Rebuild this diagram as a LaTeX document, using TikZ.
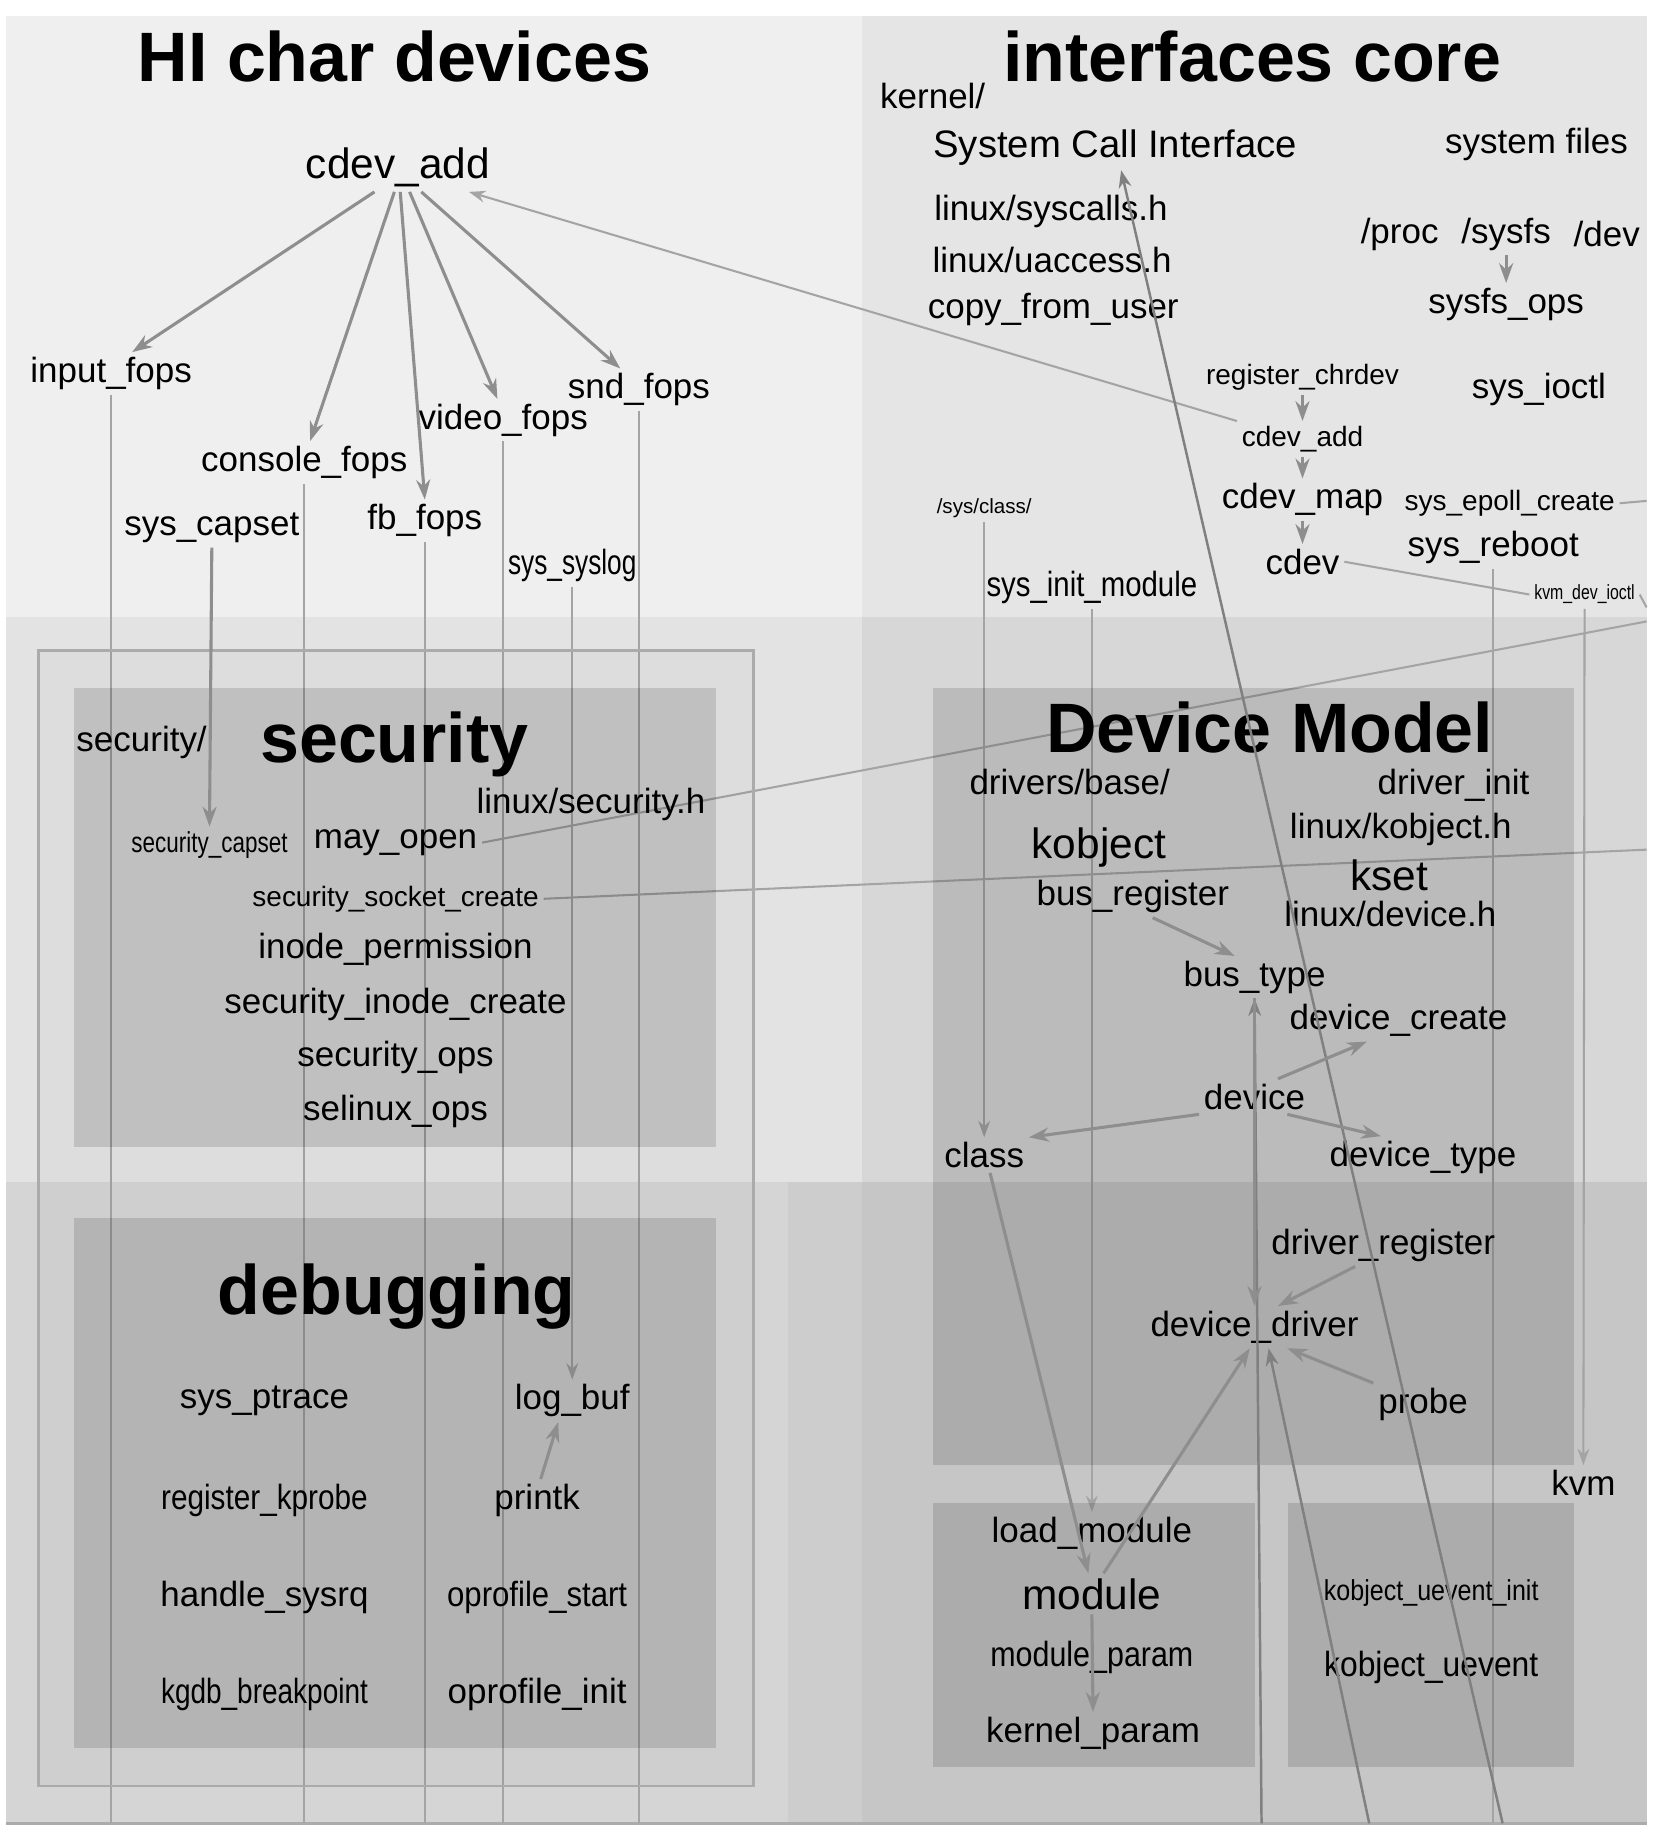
\documentclass[tikz,border=0pt]{standalone}
\usepackage{fontspec}
\setmainfont{Liberation Sans}
\usepackage{graphicx}
\usepackage{xcolor}
\usetikzlibrary{positioning}
\usetikzlibrary{arrows.meta}
\definecolor{hitop}{HTML}{EFEFEF}
\definecolor{ictop}{HTML}{E5E5E5}
\definecolor{himid}{HTML}{E3E3E3}
\definecolor{icmid}{HTML}{D7D7D7}
\definecolor{hilow}{HTML}{D5D5D5}
\definecolor{gaplow}{HTML}{CDCDCD}
\definecolor{iclow}{HTML}{C6C6C6}
\definecolor{callgray}{HTML}{8E8E8E}
\definecolor{wiregray}{HTML}{A4A4A4}
\definecolor{frameline}{HTML}{ABABAB}
\pgfdeclarelayer{back}
\pgfdeclarelayer{wires}
\pgfdeclarelayer{panels}
\pgfsetlayers{back,wires,panels,main}
\newcommand{\narrowtext}[2]{\scalebox{#1}[1]{#2}}
\tikzset{
  % Labels of functions and files
  lbl/.style={font=\fontsize{8.5}{10}\selectfont, inner sep=1pt},
  lblbig/.style={font=\fontsize{10.3}{12}\selectfont, inner sep=1pt},
  lblsmall/.style={font=\fontsize{6.8}{8}\selectfont, inner sep=1pt},
  lbltiny/.style={font=\fontsize{5}{6}\selectfont, inner sep=1pt},
  % Headings of the areas
  heading/.style={font=\fontsize{17}{20}\selectfont\bfseries, inner sep=1pt},
  % Grey panels and the outer frame
  panel/.style={fill=black, fill opacity=0.13, draw=none},
  framebox/.style={draw=frameline, line width=0.6pt, fill=black, fill opacity=0.025},
  % Relationships
  call/.style={-{Stealth[length=1.7mm,width=1.2mm]}, draw=callgray, line width=0.75pt},
  longcall/.style={-{Stealth[length=1.5mm,width=1.1mm]}, draw=callgray!90!black, line width=0.6pt},
  wire/.style={draw=wiregray, line width=0.5pt},
  wirecall/.style={wire, -{Stealth[length=1.4mm,width=1mm]}},
}

\begin{document}
\begin{tikzpicture}[x=0.01cm, y=-0.01cm]
\useasboundingbox (0,0) rectangle (1417,1568);

\begin{pgfonlayer}{back}
  \fill[white] (0,0) rectangle (1417,1568);
  \fill[hitop] (5,14) rectangle (737,527);
  \fill[ictop] (737,14) rectangle (1407,527);
  \fill[himid] (5,527) rectangle (737,1010);
  \fill[icmid] (737,527) rectangle (1407,1010);
  \fill[hilow] (5,1010) rectangle (737,1558);
  \fill[gaplow] (673,1010) rectangle (737,1558);
  \fill[iclow] (737,1010) rectangle (1407,1558);
  \draw[frameline, line width=0.8pt] (5,1558) -- (1407,1558);
\end{pgfonlayer}

\begin{pgfonlayer}{panels}
  \draw[framebox] (33,556) rectangle (644,1526);
  \fill[panel] (63,588) rectangle (612,980);
  \fill[panel] (63,1041) rectangle (612,1494);
  \fill[panel] (797,588) rectangle (1345,1252);
  \fill[panel] (797,1284) rectangle (1072,1510);
  \fill[panel] (1101,1284) rectangle (1345,1510);
\end{pgfonlayer}

\node[heading] (hititle) at (337,48) {HI char devices};
\node[heading] (ictitle) at (1070,48) {interfaces core};
\node[heading] (sectitle) at (337,636) {security};
\node[heading] (dbgtitle) at (339,1108) {debugging};
\node[heading] (dmtitle) at (1085,622) {Device Model};

% HI char devices
\node[lblbig] (cdevaddL) at (340,143) {cdev\_add};
\node[lbl] (inputfops) at (95,319) {input\_fops};
\node[lbl] (sndfops) at (546,333) {snd\_fops};
\node[lbl] (videofops) at (430,359) {video\_fops};
\node[lbl] (consolefops) at (260,395) {console\_fops};
\node[lbl] (syscapset) at (181,451) {sys\_capset};
\node[lbl] (fbfops) at (363,445) {fb\_fops};
\node[lbl] (syssyslog) at (489,483) {\narrowtext{0.75}{sys\_syslog}};

% interfaces core
\node[lbl] (kerneldir) at (797,82) {kernel/};
\node[lbl, font=\fontsize{9.3}{11}\selectfont] (sci) at (953,126) {System Call Interface};
\node[lbl] (sysfiles) at (1313,123) {system files};
\node[lbl] (syscallsh) at (898,181) {linux/syscalls.h};
\node[lbl] (uaccessh) at (899,222) {linux/uaccess.h};
\node[lbl] (copyfromuser) at (900,264) {copy\_from\_user};
\node[lbl] (proc) at (1196,200) {/proc};
\node[lbl] (sysfs) at (1287,200) {/sysfs};
\node[lbl] (dev) at (1373,200) {/dev};
\node[lbl] (sysfsops) at (1287,260) {sysfs\_ops};
\node[lblsmall] (registerchrdev) at (1113,322) {register\_chrdev};
\node[lbl] (sysioctl) at (1315,333) {sys\_ioctl};
\node[lblsmall] (cdevaddR) at (1113,375) {cdev\_add};
\node[lbl] (cdevmap) at (1113,427) {cdev\_map};
\node[lblsmall] (sysepoll) at (1290,430) {sys\_epoll\_create};
\node[lbl] (cdev) at (1113,480) {cdev};
\node[lbl] (sysreboot) at (1276,468) {sys\_reboot};
\node[lbltiny] (sysclass) at (841,434) {/sys/class/};
\node[lbl] (sysinitmodule) at (933,502) {\narrowtext{0.84}{sys\_init\_module}};
\node[lbltiny] (kvmdevioctl) at (1354,508) {\narrowtext{0.77}{kvm\_dev\_ioctl}};

% security
\node[lbl] (securitydir) at (121,634) {security/};
\node[lbl] (securityh) at (505,687) {linux/security.h};
\node[lbl, font=\fontsize{7}{8}\selectfont] (securitycapset) at (179,722) {\narrowtext{0.78}{security\_capset}};
\node[lbl] (mayopen) at (338,720) {may\_open};
\node[lblsmall] (socketcreate) at (338,768) {security\_socket\_create};
\node[lbl] (inodeperm) at (338,811) {inode\_permission};
\node[lbl] (inodecreate) at (338,858) {security\_inode\_create};
\node[lbl] (securityops) at (338,904) {security\_ops};
\node[lbl] (selinuxops) at (338,950) {selinux\_ops};

% debugging
\node[lbl] (sysptrace) at (226,1197) {sys\_ptrace};
\node[lbl] (logbuf) at (489,1197) {log\_buf};
\node[lbl] (registerkprobe) at (226,1282) {\narrowtext{0.85}{register\_kprobe}};
\node[lbl] (printk) at (459,1282) {printk};
\node[lbl] (handlesysrq) at (226,1365) {handle\_sysrq};
\node[lbl] (oprofilestart) at (459,1365) {\narrowtext{0.89}{oprofile\_start}};
\node[lbl] (kgdbbreakpoint) at (226,1448) {\narrowtext{0.8}{kgdb\_breakpoint}};
\node[lbl] (oprofileinit) at (459,1448) {oprofile\_init};

% Device Model
\node[lbl] (driversbase) at (914,668) {drivers/base/};
\node[lbl] (driverinit) at (1242,671) {driver\_init};
\node[lbl] (kobjecth) at (1197,709) {linux/kobject.h};
\node[lblbig] (kobject) at (939,724) {kobject};
\node[lblbig] (kset) at (1187,748) {kset};
\node[lbl] (busregister) at (968,766) {bus\_register};
\node[lbl] (deviceh) at (1188,781) {linux/device.h};
\node[lbl] (bustype) at (1072,835) {bus\_type};
\node[lbl] (devicecreate) at (1195,872) {device\_create};
\node[lbl] (device) at (1072,937) {device};
\node[lbl] (class) at (841,987) {class};
\node[lbl] (devicetype) at (1216,989) {device\_type};
\node[lbl] (driverregister) at (1182,1064) {driver\_register};
\node[lbl] (devicedriver) at (1072,1134) {device\_driver};
\node[lbl] (probe) at (1216,1200) {probe};
\node[lbl] (kvm) at (1353,1267) {kvm};
\node[lbl] (loadmodule) at (933,1310) {load\_module};
\node[lblbig] (module) at (933,1362) {module};
\node[lbl] (moduleparam) at (933,1416) {\narrowtext{0.87}{module\_param}};
\node[lbl] (kernelparam) at (934,1481) {kernel\_param};
\node[lbl, font=\fontsize{7}{8}\selectfont] (ueventinit) at (1223,1361) {\narrowtext{0.87}{kobject\_uevent\_init}};
\node[lbl] (uevent) at (1223,1425) {\narrowtext{0.91}{kobject\_uevent}};

% ends of lines that leave the picture
\coordinate (bottomedge) at (0,1558);
\coordinate (sciout) at (1284,1558);
\coordinate (ddout) at (1170,1558);
\coordinate (busout) at (1078,1558);
\coordinate (edgeA) at (1407,531);
\coordinate (edgeB) at (1407,726);
\coordinate (edgeC) at (1407,519);
\coordinate (edgeD) at (1407,428);

\begin{pgfonlayer}{wires}
  \draw[wire] (inputfops.south) -- (inputfops.south |- bottomedge);
  \draw[wire] (consolefops.south) -- (consolefops.south |- bottomedge);
  \draw[wire] (fbfops.south) -- (fbfops.south |- bottomedge);
  \draw[wire] (videofops.south) -- (videofops.south |- bottomedge);
  \draw[wire] (sndfops.south) -- (sndfops.south |- bottomedge);
  \draw[wirecall] (syssyslog.south) -- (logbuf.north);
  \draw[wirecall] (sysinitmodule.south) -- (loadmodule.north);
  \draw[wirecall] (sysclass.south) -- (class.north);
  \draw[wire] (sysreboot.south) -- (sysreboot.south |- bottomedge);
  \draw[wirecall] (kvmdevioctl.south) -- (kvm.north);
  \draw[wirecall] (cdevaddR.north west) -- ([xshift=-0.22cm]cdevaddL.south east);
  \draw[wire] (mayopen.east) -- (edgeA);
  \draw[wire] (socketcreate.east) -- (edgeB);
  \draw[wire] (cdev.east) -- (kvmdevioctl.west);
  \draw[wire] (kvmdevioctl.east) -- (edgeC);
  \draw[wire] (sysepoll.east) -- (edgeD);
\end{pgfonlayer}

\draw[call] ([xshift=-0.2cm]cdevaddL.south) -- ([xshift=0.18cm]inputfops.north);
\draw[call] ([xshift=-0.03cm]cdevaddL.south) -- ([xshift=0.05cm]consolefops.north);
\draw[call] ([xshift=0.02cm]cdevaddL.south) -- (fbfops.north);
\draw[call] ([xshift=0.1cm]cdevaddL.south) -- ([xshift=-0.05cm]videofops.north);
\draw[call] ([xshift=0.2cm]cdevaddL.south) -- ([xshift=-0.16cm]sndfops.north);
\draw[call] (syscapset.south) -- (securitycapset.north);
\draw[call] ([xshift=0.03cm]printk.north) -- ([xshift=-0.12cm]logbuf.south);
\draw[call] (sysfs.south) -- (sysfsops.north);
\draw[call] (registerchrdev.south) -- (cdevaddR.north);
\draw[call] (cdevaddR.south) -- (cdevmap.north);
\draw[call] (cdevmap.south) -- (cdev.north);
\draw[longcall] (sciout) -- ([xshift=0.05cm]sci.south);
\draw[call] ([xshift=0.17cm]busregister.south) -- ([xshift=-0.17cm]bustype.north);
\draw[longcall] (busout) -- (bustype.south);
\draw[call] (bustype.south) -- (devicedriver.north);
\draw[call] ([xshift=0.2cm]device.north) -- ([xshift=-0.27cm]devicecreate.south);
\draw[call] (device.south west) -- (class.north east);
\draw[call] ([xshift=0.28cm]device.south) -- ([xshift=-0.36cm]devicetype.north);
\draw[call] ([xshift=-0.24cm]driverregister.south) -- ([xshift=0.2cm]devicedriver.north);
\draw[call] (probe.north west) -- ([xshift=0.28cm]devicedriver.south);
\draw[longcall] (ddout) -- ([xshift=0.12cm]devicedriver.south);
\draw[call] ([xshift=0.05cm]class.south) -- ([xshift=-0.03cm]module.north);
\draw[call] ([xshift=0.1cm]module.north) -- ([xshift=-0.04cm]devicedriver.south);
\draw[call] (module.south) -- (kernelparam.north);

\end{tikzpicture}
\end{document}
